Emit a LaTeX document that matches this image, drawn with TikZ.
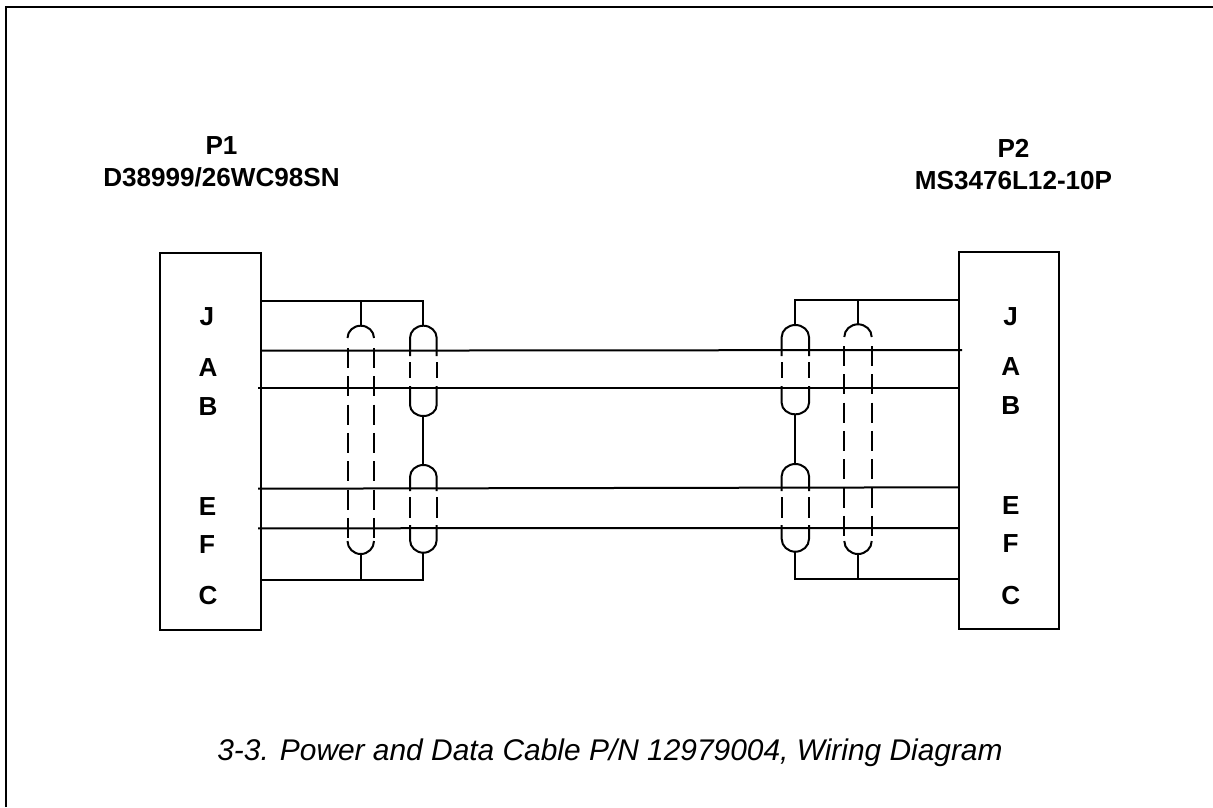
\documentclass[tikz,border=0pt]{standalone}
\usepackage{fontspec}
\setmainfont{Liberation Sans}
\begin{document}
\begin{tikzpicture}[x=1pt,y=-1pt,
  ln/.style={line width=2pt,black},
  lbl/.style={font=\bfseries\fontsize{26.1}{30}\selectfont,inner sep=0pt,anchor=center},
  dsh/.style={line width=2pt,black,dash pattern=on 20pt off 8.3pt}]
\useasboundingbox (0,0) rectangle (1213,807);
\draw[line width=2pt] (6,807) -- (6,6.5) -- (1213,6.5);
\node[draw,ln,minimum width=101pt,minimum height=377pt,inner sep=0pt,outer sep=0pt] (P1) at (210.5,441.5) {};
\node[draw,ln,minimum width=100pt,minimum height=377pt,inner sep=0pt,outer sep=0pt] (P2) at (1009,440.5) {};
% labels
\node[lbl] (p1a) at (221.5,145.5) {P1};
\node[lbl] (p1b) at (221.5,177.5) {D38999/26WC98SN};
\node[lbl] (p2a) at (1013.5,148.5) {P2};
\node[lbl] (p2b) at (1013.5,181) {MS3476L12-10P};
\foreach \n/\t/\x/\y in {a/J/207/317,b/A/208/368,c/B/208/406.5,d/E/207.5/506.5,e/F/207/545,f/C/208/595.5}
  \node[lbl] (l\n) at (\x,\y) {\t};
\foreach \n/\t/\x/\y in {a/J/1010.7/317,b/A/1010.7/367,c/B/1010.7/406,d/E/1010.7/505.5,e/F/1010.7/544,f/C/1010.7/595.5}
  \node[lbl] (r\n) at (\x,\y) {\t};
\node[font=\itshape\fontsize{29.9}{34}\selectfont,inner sep=0pt] (cap) at (610,753) {3-3. Power and Data Cable P/N 12979004, Wiring Diagram};
% signal wires
\draw[ln] (P1.east |- 0,350.7) -- (P2.west |- 0,350) -- ++(3,0);
\draw[ln] ([xshift=-3pt]P1.east |- 0,388.3) -- (P2.west |- 0,388.3);
\draw[ln] ([xshift=-3pt]P1.east |- 0,488.7) -- (P2.west |- 0,487.3);
\draw[ln] ([xshift=-3pt]P1.east |- 0,528.3) -- (P2.west |- 0,528);
% left shields
\draw[ln] (P1.east |- 0,301) -- (423.3,301) -- (423.3,326);
\draw[ln] (360.7,301) -- (360.7,326);
\draw[ln] (P1.east |- 0,580) -- (423.3,580) -- (423.3,553);
\draw[ln] (360.7,580) -- (360.7,554);
\draw[ln] (423.3,416) -- (423.3,465);
% left outer dashed shield
\draw[ln] (347.5,338) arc (180:360:13.25 and 12.3);
\draw[ln] (347.5,541) arc (180:0:13.25 and 13);
\draw[dsh] (347.5,348) -- (347.5,541);
\draw[dsh] (374,348) -- (374,541);
% left inner shields
\draw[ln] (410,356) -- (410,338) arc (180:360:13.35 and 12.3) -- (436.7,356);
\draw[ln] (410,386) -- (410,405) arc (180:0:13.35 and 11) -- (436.7,386);
\draw[ln] (410,362) -- (410,378);
\draw[ln] (436.7,362) -- (436.7,378);
\draw[ln] (410,491) -- (410,477) arc (180:360:13.35 and 12) -- (436.7,491);
\draw[ln] (410,525) -- (410,540) arc (180:0:13.35 and 12.7) -- (436.7,525);
\draw[ln] (410,497) -- (410,518);
\draw[ln] (436.7,497) -- (436.7,518);
% right shields
\draw[ln] (P2.west |- 0,300) -- (795,300) -- (795,325);
\draw[ln] (857.7,300) -- (857.7,325);
\draw[ln] (P2.west |- 0,579) -- (795,579) -- (795,552);
\draw[ln] (857.7,579) -- (857.7,554);
\draw[ln] (795.3,414) -- (795.3,464);
% right outer dashed
\draw[ln] (844.3,337) arc (180:360:13.7 and 12.7);
\draw[ln] (844.3,541) arc (180:0:13.7 and 13);
\draw[dsh] (844.3,346) -- (844.3,541);
\draw[dsh] (871.7,346) -- (871.7,541);
% right inner
\draw[ln] (781.7,356) -- (781.7,337) arc (180:360:13.65 and 12) -- (809,356);
\draw[ln] (781.7,386) -- (781.7,403) arc (180:0:13.65 and 11.3) -- (809,386);
\draw[ln] (781.7,362) -- (781.7,378);
\draw[ln] (809,362) -- (809,378);
\draw[ln] (781.7,491) -- (781.7,476) arc (180:360:13.65 and 12) -- (809,491);
\draw[ln] (781.7,525) -- (781.7,539) arc (180:0:13.65 and 12.7) -- (809,525);
\draw[ln] (781.7,497) -- (781.7,518);
\draw[ln] (809,497) -- (809,518);
\end{tikzpicture}
\end{document}
